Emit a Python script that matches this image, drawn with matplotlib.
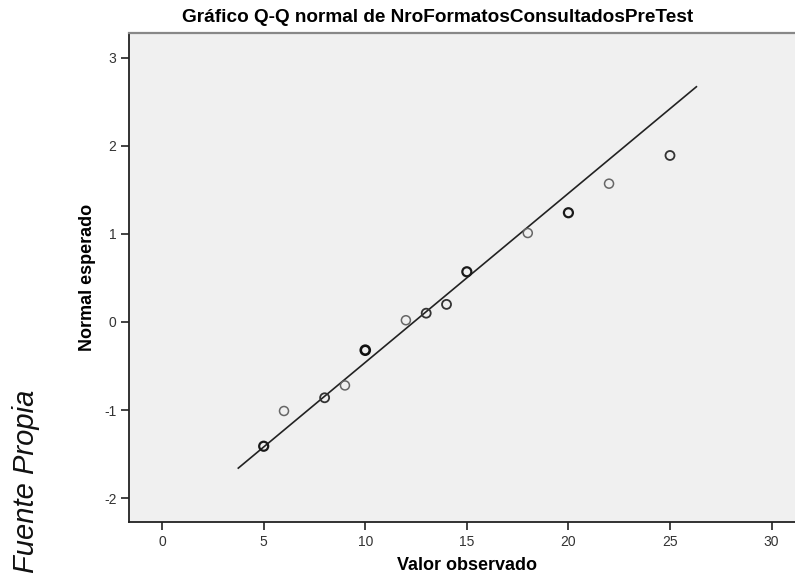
import matplotlib
matplotlib.use("Agg")
import matplotlib.pyplot as plt
import numpy as np

plt.rcParams['font.family'] = ['Liberation Sans', 'DejaVu Sans']
plt.rcParams['axes.unicode_minus'] = False

title = "Gráfico Q-Q normal de NroFormatosConsultadosPreTest"
xlabel = "Valor observado"
ylabel = "Normal esperado"
side_note = "Fuente Propia"

observed = [5, 6, 8, 9, 10, 12, 13, 14, 15, 18, 20, 22, 25]
expected = [-1.41, -1.01, -0.86, -0.72, -0.32, 0.02, 0.10, 0.20, 0.57, 1.01, 1.24, 1.57, 1.89]
counts = [3, 1, 2, 1, 4, 1, 2, 2, 3, 1, 3, 1, 2]
fit_mean = 12.39
fit_sd = 5.21
xticks = [0, 5, 10, 15, 20, 25, 30]
yticks = [-2, -1, 0, 1, 2, 3]

fig = plt.figure(figsize=(7.95, 5.77), dpi=100)
W, H = 795, 577
ax = fig.add_axes([129 / W, 1 - 522 / H, (800 - 129) / W, (522 - 33) / H])
ax.set_facecolor('#f0f0f0')

# reference line
pad = (max(observed) - min(observed)) * 0.0625
lx = np.array([min(observed) - pad, max(observed) + 1.3])
ly = (lx - fit_mean) / fit_sd
ax.plot(lx, ly, color='#222222', lw=1.2, zorder=2)

for x, y, c in zip(observed, expected, counts):
    if c >= 4:
        col, lw = '#111111', 1.9
    elif c == 3:
        col, lw = '#1a1a1a', 1.6
    elif c == 2:
        col, lw = '#333333', 1.3
    else:
        col, lw = '#666666', 1.1
    ax.scatter([x], [y], s=42, facecolors='none', edgecolors=col, linewidths=lw, zorder=3)

ax.set_xlim(-1.63, 31.4)
ax.set_ylim(-2.27, 3.28)
ax.set_xticks(xticks)
ax.set_yticks(yticks)
ax.tick_params(direction='out', length=6, width=1.2, labelsize=10, colors='#222222', pad=3)
for lab in ax.get_xticklabels() + ax.get_yticklabels():
    lab.set_color('#333333')

for s in ['left', 'bottom']:
    ax.spines[s].set_color('#222222')
    ax.spines[s].set_linewidth(1.3)
ax.spines['top'].set_color('#888888')
ax.spines['top'].set_linewidth(1.6)
ax.spines['right'].set_visible(False)

fig.text(438 / W, 1 - 18 / H, title, ha='center', va='center', fontsize=13.7, fontweight='bold')
fig.text(467 / W, 1 - 566 / H, xlabel, ha='center', va='center', fontsize=13, fontweight='bold')
fig.text(88 / W, 1 - 277 / H, ylabel, ha='center', va='center', fontsize=13, fontweight='bold', rotation=90)
fig.text(26 / W, 1 - 481 / H, side_note, ha='center', va='center', fontsize=21, style='italic', rotation=90, color='#111111')

fig.savefig('out.png', dpi=100)
